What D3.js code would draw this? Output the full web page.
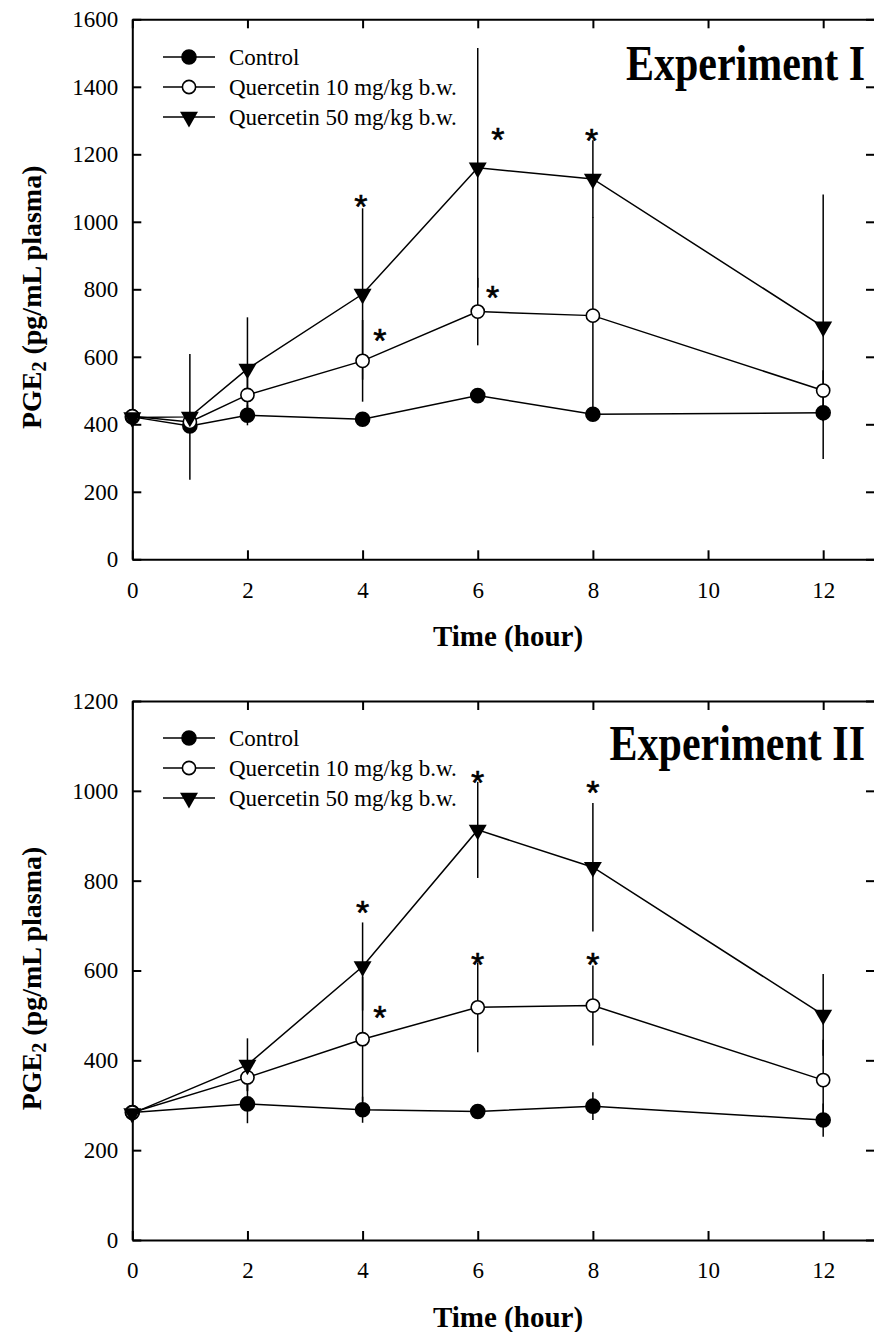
<!DOCTYPE html>
<html>
<head>
<meta charset="utf-8">
<script src="https://cdn.jsdelivr.net/npm/d3@7"></script>
<style>
  body { margin: 0; background: #fff; }
  svg { display: block; }
</style>
</head>
<body>
<div id="chart"></div>
<script>
// ---- data ----
const seriesNames = ["Control", "Quercetin 10 mg/kg b.w.", "Quercetin 50 mg/kg b.w."];
const xTicks = [0, 2, 4, 6, 8, 10, 12];

// Experiment I
const timesI = [0, 1, 2, 4, 6, 8, 12];
const controlI = [422, 395, 427, 415, 485, 430, 434];
const controlErrI = [5, 15, 30, 15, 15, 20, 25];
const q10I = [424, 407, 487, 588, 734, 722, 500];
const q10ErrI = [5, 30, 50, 121, 100, 292, 60];
const q50I = [420, 422, 564, 786, 1160, 1127, 689];
const q50ErrI = [5, 186, 153, 254, 355, 115, 392];
const yTicksI = [0, 200, 400, 600, 800, 1000, 1200, 1400, 1600];
const starsI = [[3.97, 1070], [4.3, 673], [6.26, 798], [6.35, 1267], [7.98, 1264]];

// Experiment II
const timesII = [0, 2, 4, 6, 8, 12];
const controlII = [284, 303, 290, 286, 298, 267];
const controlErrII = [5, 43, 29, 15, 31, 37];
const q10II = [284, 362, 447, 518, 522, 356];
const q10ErrII = [5, 30, 139, 100, 89, 90];
const q50II = [282, 390, 609, 913, 830, 501];
const q50ErrII = [5, 59, 98, 107, 143, 91];
const yTicksII = [0, 200, 400, 600, 800, 1000, 1200];
const starsII = [[4, 746], [4.3, 512], [6, 1036], [8, 1013], [6, 631], [8, 631]];

const width = 874, height = 1332;
const serif = '"Liberation Serif", "Times New Roman", Times, serif';

const svg = d3.select("#chart").append("svg")
  .attr("width", width)
  .attr("height", height)
  .attr("font-family", serif);

const x = d3.scaleLinear().domain([0, 12.9]).range([132.3, 875]);

function drawPanel(opts) {
  const y = d3.scaleLinear().domain([0, opts.yMax]).range([opts.bottom, opts.top]);
  const g = svg.append("g");

  const series = [
    { name: seriesNames[0], vals: opts.control, err: opts.controlErr, kind: "filled" },
    { name: seriesNames[1], vals: opts.q10, err: opts.q10Err, kind: "open" },
    { name: seriesNames[2], vals: opts.q50, err: opts.q50Err, kind: "tri" }
  ];

  // axes (ticks inward on all four sides)
  const axisStyle = sel => {
    sel.attr("font-family", serif).attr("font-size", 23);
    sel.select(".domain").attr("stroke", "#000").attr("stroke-width", 2);
    sel.selectAll(".tick line").attr("stroke", "#000").attr("stroke-width", 2);
    sel.selectAll(".tick text").attr("fill", "#000");
  };

  g.append("g")
    .attr("transform", `translate(0,${opts.bottom})`)
    .call(d3.axisBottom(x).tickValues(xTicks).tickFormat(d3.format("d"))
      .tickSizeInner(-9).tickSizeOuter(0).tickPadding(22))
    .call(axisStyle);
  g.append("g")
    .attr("transform", `translate(0,${opts.top})`)
    .call(d3.axisTop(x).tickValues(xTicks).tickSizeInner(-9).tickSizeOuter(0).tickFormat(""))
    .call(axisStyle);
  g.append("g")
    .attr("transform", `translate(${x.range()[0]},0)`)
    .call(d3.axisLeft(y).tickValues(opts.yTicks).tickFormat(d3.format("d"))
      .tickSizeInner(-9).tickSizeOuter(0).tickPadding(14))
    .call(axisStyle);
  g.append("g")
    .attr("transform", `translate(${x.range()[1]},0)`)
    .call(d3.axisRight(y).tickValues(opts.yTicks).tickSizeInner(-9).tickSizeOuter(0).tickFormat(""))
    .call(axisStyle);

  // error bars
  series.forEach(s => {
    g.append("g").selectAll("line")
      .data(opts.times.map((t, i) => ({ t, v: s.vals[i], e: s.err[i] })))
      .join("line")
      .attr("x1", d => x(d.t)).attr("x2", d => x(d.t))
      .attr("y1", d => y(d.v - d.e)).attr("y2", d => y(d.v + d.e))
      .attr("stroke", "#000").attr("stroke-width", 1.5);
  });

  // lines
  const line = d3.line().x(d => x(d[0])).y(d => y(d[1]));
  series.forEach(s => {
    g.append("path")
      .attr("d", line(opts.times.map((t, i) => [t, s.vals[i]])))
      .attr("fill", "none").attr("stroke", "#000").attr("stroke-width", 1.5);
  });

  // markers
  series.forEach(s => {
    const pts = opts.times.map((t, i) => [x(t), y(s.vals[i])]);
    drawMarkers(g, pts, s.kind);
  });

  // asterisks
  const fs = 34;
  g.selectAll(".star")
    .data(opts.stars)
    .join("text")
    .attr("class", "star")
    .attr("x", d => x(d[0]))
    .attr("y", d => y(d[1]) + 0.57 * fs)
    .attr("text-anchor", "middle")
    .attr("font-family", '"Liberation Sans", Arial, sans-serif')
    .attr("font-size", fs)
    .attr("stroke", "#000").attr("stroke-width", 0.6)
    .text("*");

  // legend
  const leg = g.append("g").attr("transform", `translate(0,${opts.legendY})`);
  series.forEach((s, i) => {
    const row = leg.append("g").attr("transform", `translate(0,${i * 30})`);
    row.append("line").attr("x1", 163).attr("x2", 215).attr("y1", 0).attr("y2", 0)
      .attr("stroke", "#000").attr("stroke-width", 1.5);
    drawMarkers(row, [[189, 0]], s.kind);
    row.append("text").attr("x", 229).attr("y", 0).attr("dy", "0.34em")
      .attr("font-family", serif).attr("font-size", 23).text(s.name);
  });

  // title
  g.append("text")
    .attr("transform", `translate(865,${opts.titleY}) scale(1,1.22)`)
    .attr("text-anchor", "end")
    .attr("font-family", serif)
    .attr("font-size", 42).attr("font-weight", "bold")
    .text(opts.title);

  // y label
  const ylab = g.append("text")
    .attr("transform", `translate(41,${(opts.top + opts.bottom) / 2 + 8}) rotate(-90)`)
    .attr("text-anchor", "middle")
    .attr("font-family", serif)
    .attr("font-size", 28).attr("font-weight", "bold");
  ylab.append("tspan").text("PGE");
  ylab.append("tspan").attr("baseline-shift", "-25%").attr("font-size", 20).text("2");
  ylab.append("tspan").text(" (pg/mL plasma)");

  // x label
  g.append("text")
    .attr("x", 508).attr("y", opts.bottom + 87)
    .attr("text-anchor", "middle")
    .attr("font-family", serif)
    .attr("font-size", 29).attr("font-weight", "bold")
    .text("Time (hour)");
}

function drawMarkers(g, pts, kind) {
  if (kind === "tri") {
    g.append("g").selectAll("path")
      .data(pts).join("path")
      .attr("transform", d => `translate(${d[0]},${d[1]}) rotate(180)`)
      .attr("d", d3.symbol(d3.symbolTriangle, 140))
      .attr("fill", "#000");
  } else {
    g.append("g").selectAll("circle")
      .data(pts).join("circle")
      .attr("cx", d => d[0]).attr("cy", d => d[1])
      .attr("r", kind === "filled" ? 7 : 6.6)
      .attr("fill", kind === "filled" ? "#000" : "#fff")
      .attr("stroke", "#000").attr("stroke-width", 1.6);
  }
}

drawPanel({
  top: 19.3, bottom: 559.3, yMax: 1600, yTicks: yTicksI,
  times: timesI, control: controlI, controlErr: controlErrI,
  q10: q10I, q10Err: q10ErrI, q50: q50I, q50Err: q50ErrI,
  stars: starsI, legendY: 57, titleY: 80, title: "Experiment I"
});

drawPanel({
  top: 701, bottom: 1240, yMax: 1200, yTicks: yTicksII,
  times: timesII, control: controlII, controlErr: controlErrII,
  q10: q10II, q10Err: q10ErrII, q50: q50II, q50Err: q50ErrII,
  stars: starsII, legendY: 738, titleY: 760, title: "Experiment II"
});
</script>
</body>
</html>
